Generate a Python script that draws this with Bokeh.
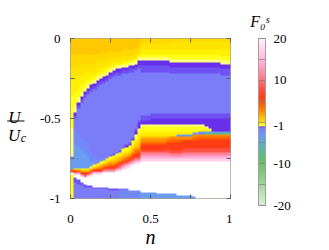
import numpy as np
from bokeh.plotting import figure
from bokeh.layouts import row
from bokeh.models import (LinearColorMapper, ColorBar, FixedTicker, Range1d, LinearAxis)
from bokeh.core.properties import value
from bokeh.embed import file_html
from bokeh.resources import INLINE

# ---------------- data ----------------
N_RANGE = [0.0, 1.0]          # filling n
U_RANGE = [-1.0, 0.0]         # U / Uc
X_TICKS = [0, 0.25, 0.5, 0.75, 1]
X_LABELS = ["0", "", "0.5", "", "1"]
Y_TICKS = [-1, -0.75, -0.5, -0.25, 0]
Y_LABELS = ["-1", "", "-0.5", "", "0"]
CB_TICKS = [-20, -10, -1, 10, 20]
CB_LABELS = ["-20", "-10", "-1", "10", "20"]
CB_MINOR = [-15, -5, 0, 5, 15]
F_LOW, F_HIGH = -20, 20

# F0s level represented by each symbol ('.' = no value, white)
LEVEL_KEYS = ["A", "B", "C", "D", "E", "F", "g", "h", "i", "j", "k", "l", "m", "q", "r",
              "v", "u", "b", "c", "d", "e", "t"]
LEVEL_VALUES = [0.8, 0.3, -0.1, -0.4, -0.7, -0.92, 1.6, 2.5, 4.0, 6.0, 8.0, 11.0, 14.0, 17.0, 19.5,
                -1.02, -1.15, -1.45, -2.2, -3.2, -4.5, -6.5]

# grid: 50 columns in n (step 0.02), each 100 cells in U
# from U=0 (top) to U=-1 (bottom), run-length coded as symbol+count
COLUMNS = [
    "A10 B8 C8 D10 E20 F18 d8 i1 j1 .1 E15",
    "A10 B8 C8 D8 E8 F4 v2 u2 b8 c8 d15 E1 i1 j1 m1 .2 u3 b10",
    "A10 B7 C7 D7 E6 F3 v2 u2 b16 c8 d13 E1 h1 j1 m1 .3 u3 b9",
    "A10 B7 C6 D6 E5 F2 v2 u2 b22 c8 d11 E1 A1 h1 j1 m1 .4 u2 b8",
    "A10 B6 C6 D5 E4 F2 v2 u2 b27 c8 d9 E1 A1 h1 j1 k1 m1 .4 u2 b7",
    "A10 B6 C5 D5 E3 F2 v2 u2 b32 c7 d7 E1 A1 h1 j1 m1 .6 u1 b7",
    "A10 B6 C5 D4 E2 F2 v2 u2 b38 c6 d3 E1 A1 h1 j1 l1 q1 .6 u1 b7",
    "A10 B6 C5 D3 E2 F2 v2 u2 b42 c4 d1 E1 A1 h1 j1 l1 q1 .8 u1 b6",
    "A10 B5 C4 D3 E2 F2 v2 u2 b46 c2 E1 B1 g1 i1 j1 l1 q1 .8 u1 b6",
    "A9 B5 C4 D3 E2 F2 v2 u2 b46 c2 E1 D1 A1 h1 i1 j1 l1 q1 .8 u1 b6",
    "A9 B5 C4 D2 E2 F2 v2 u2 b47 c1 E1 D1 A1 h1 i1 j1 l1 q1 .9 u1 b6",
    "A9 B5 C3 D2 E2 F2 v2 u2 b48 E1 D1 A1 g1 h1 j1 k1 l1 q1 .9 u1 b6",
    "A8 B5 C3 D2 E1 F2 v2 u2 b48 u1 E1 D1 A1 g1 h1 i1 j1 k1 l1 q1 .10 u1 b5",
    "A8 B4 C3 D2 E1 F2 v2 u2 b48 u1 E1 D1 B1 A1 g1 h1 i1 j1 k1 l1 q1 .10 u1 b5",
    "A8 B4 C3 D1 E1 F2 v2 u2 b48 u1 E1 D1 B1 A1 g1 h1 i1 j1 k1 l1 q1 .11 u1 b5",
    "A8 B4 C3 D1 E1 F2 v2 u2 b47 u1 E1 D1 B1 A1 g1 h1 i1 j1 k1 l1 m1 q1 .11 b2 c4",
    "A7 B4 C3 D1 E1 F2 v2 u2 b46 u1 E2 D1 B1 A1 g1 h1 i1 j1 k1 l1 m1 q1 .12 b1 c5",
    "A7 B4 C3 D1 E1 F2 v2 u2 b44 u1 v1 E2 D1 B1 A1 g1 h1 i1 j1 k1 l1 m1 q1 r1 .12 b1 c5",
    "A7 B4 C2 D1 E1 F2 v2 u2 b44 u1 v1 E2 D1 B1 A1 g1 h1 i1 j1 k1 l1 m1 q1 r1 .14 c5",
    "A7 B4 C2 D1 E1 F2 v2 u2 b41 u1 v1 E2 D2 B1 A1 g1 h1 i1 j2 k1 l1 m1 q1 r1 .15 c5",
    "A6 B4 C2 D1 E1 F2 v2 u2 b36 u2 v2 F1 E2 D2 B1 A2 g1 h1 i2 j2 k1 l1 m1 q1 r1 .16 c5",
    "A5 B3 C2 D1 E1 F2 v3 u2 b32 u2 v3 F1 E3 D3 B2 A2 g2 h1 i2 j2 k1 l1 m1 q1 .17 c5",
    "B3 C4 D3 E2 F2 v3 u4 b27 u3 v3 F1 E3 D2 C1 A1 g1 h2 i1 j4 k1 l2 m2 q2 .19 d4",
    "B3 C4 D3 E2 F2 v3 u4 b27 u3 v3 F1 E3 D2 C1 A1 g1 h2 i1 j4 k1 l2 m2 q2 .19 d4",
    "B3 C4 D3 E2 F2 v3 u4 b27 u3 v3 F1 E3 D2 C1 A1 g1 h2 i1 j4 k1 l2 m2 q2 .19 d4",
    "B3 C4 D3 E2 F2 v3 u4 b26 u3 v4 F1 E3 D2 C1 A1 g1 h2 i1 j4 k1 l2 m2 q2 .19 d4",
    "B3 C4 D3 E2 F2 v3 u4 b26 u3 v4 F1 E3 D2 C1 A1 g1 h2 i1 j4 k1 l2 m2 q2 .19 d4",
    "B3 C4 D3 E2 F2 v3 u4 b26 u3 v4 F1 E3 D2 C1 A1 g1 h2 i1 j4 k1 l2 m2 q2 .20 d3",
    "B3 C4 D3 E2 F2 v3 u4 b26 u3 v4 F1 E3 D2 C1 A1 g1 h2 i1 j4 k1 l2 m2 q2 .20 d3",
    "B3 C4 D3 E2 F2 v3 u4 b26 u3 v4 F1 E3 D2 C1 A1 g1 h2 i1 j4 k1 l2 m2 q2 .20 d3",
    "B3 C4 D3 E2 F2 v3 u4 b26 u3 v4 F1 E3 D2 C1 A1 h2 i1 j4 k2 l2 m2 q2 .20 d3",
    "B2 C5 D3 E3 F2 v3 u4 b25 u3 v4 F1 E3 D2 C1 h2 i2 j5 k2 l2 m1 q2 .20 d3",
    "B2 C5 D3 E3 F2 v3 u4 b25 u3 v4 F1 E3 D2 C1 h2 i2 j5 k2 l2 m1 q2 .20 d3",
    "B2 C5 D3 E3 F2 v3 u4 b25 u3 v4 F1 E3 D2 d1 h2 i2 j5 k2 l2 m1 q2 .21 d2",
    "B2 C5 D3 E3 F2 v3 u4 b25 u3 v4 F1 E3 D2 d1 h2 i2 j5 k2 l2 m1 q2 .21 d2",
    "B2 C5 D3 E3 F2 v3 u4 b25 u3 v4 F1 E3 D2 d1 h2 i1 j5 k2 l2 m2 q2 .21 d2",
    "B2 C5 D3 E3 F2 v3 u4 b25 u3 v4 F1 E3 D2 d1 h2 i1 j5 k2 l2 m2 q2 .21 d2",
    "B2 C5 D3 E3 F2 v3 u4 b25 u3 v4 F1 E3 D2 d1 h2 i1 j5 k2 l2 m2 q2 .21 d2",
    "B2 C5 D3 E3 F2 v3 u4 b25 u3 v4 F1 E3 D1 d1 h2 i2 j5 k2 l2 m2 q2 .22 d1",
    "B2 C5 D3 E3 F2 v3 u4 b25 u3 v4 F1 E3 D1 d1 h2 i2 j5 k2 l2 m2 q2 .23",
    "B2 C5 D3 E3 F2 v3 u4 b25 u3 v4 F1 E2 D1 d1 c1 h1 i2 j6 k2 l2 m2 q2 .23",
    "B2 C5 D3 E3 F2 v3 u4 b25 u3 v4 F1 E2 D1 d1 c1 h1 i2 j6 k2 l2 m2 q2 .23",
    "B2 C5 D3 E3 F2 v3 u4 b25 u3 v5 F1 E1 D1 d1 t1 h1 i2 j6 k2 l2 m2 q2 .23",
    "B2 C5 D3 E3 F2 v3 u4 b25 u3 v6 F1 E1 c1 t1 h1 i2 j6 k2 l2 m2 q2 .23",
    "B2 C5 D3 E3 F2 v3 u4 b25 u3 v8 c1 t1 h1 i2 j6 k2 l2 m2 q2 .23",
    "B2 C5 D3 E3 F2 v3 u4 b25 u3 v8 c1 t1 h1 i2 j6 k2 l2 m2 q2 .23",
    "B2 C5 D3 E3 F2 v3 u4 b25 u3 v8 c1 t1 h1 i2 j6 k2 l2 m2 q2 .23",
    "B2 C5 D4 E3 F2 v3 u4 b24 u3 v8 c1 t1 h1 i2 j6 k2 l2 m2 q2 .23",
    "B2 C5 D4 E3 F2 v3 u4 b24 u3 v8 c1 t1 h1 i2 j6 k2 l2 m2 q2 .23",
    "B2 C5 D4 E3 F2 v3 u4 b24 u3 v8 c1 t1 h1 i2 j6 k2 l2 m2 q2 .23",
]
N_ROWS = 100

# ---------------- colour scale (style) ----------------
STOPS = [(-20, "#dcf0d6"), (-16, "#b0dca8"), (-12, "#80c87c"), (-9, "#62bf64"),
         (-6.5, "#5cb8a8"), (-4.5, "#62a8dc"), (-3.2, "#6a9cf2"), (-2.2, "#728af8"),
         (-1.45, "#7a7cf8"), (-1.15, "#7052f4"), (-1.0, "#6626ea"),
         (-0.999, "#ffffa0"), (-0.92, "#ffff80"), (-0.7, "#ffff1a"), (-0.4, "#fff000"),
         (-0.1, "#ffe400"), (0.3, "#ffd800"), (0.8, "#ffc800"), (1.6, "#ffaa00"),
         (2.5, "#ff8c00"), (4, "#ff6400"), (6, "#ff3c14"), (8, "#ff5048"),
         (11, "#ff8296"), (14, "#ffaad8"), (17, "#ffd0ec"), (20, "#fff4fa")]


def hex2rgb(h):
    return np.array([int(h[i:i + 2], 16) for i in (1, 3, 5)], dtype=float)


def build_palette(n=1024):
    sv = np.array([s[0] for s in STOPS])
    sc = np.array([hex2rgb(s[1]) for s in STOPS])
    centers = F_LOW + (np.arange(n) + 0.5) * (F_HIGH - F_LOW) / n
    out = []
    for v in centers:
        rgb = [np.interp(v, sv, sc[:, k]) for k in range(3)]
        out.append("#%02x%02x%02x" % tuple(int(round(c)) for c in rgb))
    return out


LEVEL_MAP = dict(zip(LEVEL_KEYS, LEVEL_VALUES))


def decode(col):
    out = []
    for tok in col.split():
        sym, cnt = tok[0], int(tok[1:])
        out += [LEVEL_MAP.get(sym, np.nan)] * cnt
    out = (out + [out[-1]] * N_ROWS)[:N_ROWS]
    return out


Z = np.array([decode(c) for c in COLUMNS], dtype=float).T   # rows top->bottom
Z = Z[::-1].copy()                                           # bottom row first

mapper = LinearColorMapper(palette=build_palette(), low=F_LOW, high=F_HIGH,
                           nan_color="white")

# ---------------- layout constants ----------------
SERIF = "Liberation Serif"
TOTAL_H = 250
LABEL_W = 30                 # strip holding the y-axis label
FRAME_L, FRAME_T, FRAME_W, FRAME_H = 40, 38, 160, 160
FRAME_B = FRAME_T + FRAME_H
MAIN_R = 2
MAIN_W = FRAME_L + FRAME_W + MAIN_R
CBAR_W = 89                  # strip holding the colour bar
CBAR_FRAME_W = 54


def strip(width, frame_w):
    # companion strip; its frame shares the main frame's top/bottom, y in canvas pixels
    f = figure(width=width, height=TOTAL_H, x_range=Range1d(0, frame_w),
               y_range=Range1d(FRAME_B, FRAME_T), output_backend="svg",
               toolbar_location=None, min_border=0, min_border_left=0,
               min_border_right=width - frame_w, min_border_top=FRAME_T,
               min_border_bottom=TOTAL_H - FRAME_B)
    f.axis.visible = False
    f.grid.visible = False
    f.outline_line_color = None
    f.background_fill_color = "white"
    f.border_fill_color = "white"
    return f


# ---------------- main figure ----------------
p = figure(width=MAIN_W, height=TOTAL_H, x_range=Range1d(*N_RANGE), y_range=Range1d(*U_RANGE),
           output_backend="svg", toolbar_location=None,
           min_border_left=FRAME_L, min_border_right=MAIN_R,
           min_border_top=FRAME_T, min_border_bottom=TOTAL_H - FRAME_B)
p.grid.visible = False
p.outline_line_color = "#a8a090"
p.background_fill_color = "white"
p.border_fill_color = "white"

p.image(image=[Z], x=N_RANGE[0], y=U_RANGE[0], dw=N_RANGE[1] - N_RANGE[0],
        dh=U_RANGE[1] - U_RANGE[0], color_mapper=mapper)

p.add_layout(LinearAxis(), "above")
p.add_layout(LinearAxis(), "right")


def style_axis(ax, ticks, labels, show, standoff):
    ax.ticker = FixedTicker(ticks=ticks, minor_ticks=[])
    ax.major_label_overrides = {t: (l if show else "") for t, l in zip(ticks, labels)}
    ax.axis_line_color = None
    ax.major_tick_in = 4
    ax.major_tick_out = 0
    ax.minor_tick_in = 0
    ax.minor_tick_out = 0
    ax.major_tick_line_color = "#606060"
    ax.major_label_text_font = SERIF
    ax.major_label_text_font_size = "13px"
    ax.major_label_text_color = "black"
    ax.major_label_standoff = standoff


style_axis(p.below[0], X_TICKS, X_LABELS, True, 16)
style_axis(p.above[0], X_TICKS, X_LABELS, False, 0)
style_axis(p.left[0], Y_TICKS, Y_LABELS, True, 10)
style_axis(p.right[0], Y_TICKS, Y_LABELS, False, 0)

xb = p.below[0]
xb.axis_label = "n"
xb.axis_label_text_font = SERIF
xb.axis_label_text_font_style = "italic"
xb.axis_label_text_font_size = "20px"
xb.axis_label_text_color = "black"
xb.axis_label_standoff = 0

# ---------------- colour bar strip ----------------
cbf = strip(CBAR_W, CBAR_FRAME_W)
cb = ColorBar(color_mapper=mapper,
              ticker=FixedTicker(ticks=CB_TICKS, minor_ticks=CB_MINOR),
              major_label_overrides=dict(zip(CB_TICKS, CB_LABELS)),
              width=7, height=167, location=(26, -7), padding=0, margin=0,
              label_standoff=8, major_label_text_font=SERIF,
              major_label_text_font_size="13px", major_label_text_color="black",
              major_tick_in=7, major_tick_out=0, major_tick_line_color="#808080",
              major_tick_line_alpha=0.7,
              minor_tick_in=7, minor_tick_out=0, minor_tick_line_color="#808080",
              minor_tick_line_alpha=0.7,
              bar_line_color="#a0a0a0", border_line_color=None,
              background_fill_color=None)
cbf.add_layout(cb, "center")
# colour-bar title F_0^s as the label of a tick-less top axis
ttl = LinearAxis(ticker=FixedTicker(ticks=[], minor_ticks=[]), axis_line_color=None,
                 major_tick_line_color=None, minor_tick_line_color=None,
                 major_label_text_font_size="0px",
                 axis_label="F\u2080\u02e2", axis_label_text_font=SERIF,
                 axis_label_text_font_style="italic", axis_label_text_font_size="16px",
                 axis_label_text_color="black", axis_label_standoff=9)
cbf.add_layout(ttl, "above")

# ---------------- y-axis label strip (U / U_c) ----------------
lab = strip(LABEL_W, LABEL_W)
lab.text(x=[14.0, 13.7], y=[117.0, 135.0], text=["U", "U"], text_font=value(SERIF),
         text_font_style="italic", text_font_size="17px", text_align="center",
         text_baseline="alphabetic", text_color="black")
lab.text(x=[20.3], y=[137.2], text=["c"], text_font=value(SERIF),
         text_font_style="italic", text_font_size="12px", text_align="left",
         text_baseline="alphabetic", text_color="black")
lab.segment(x0=[6.7], y0=[120.5], x1=[24.0], y1=[120.5], line_color="black", line_width=1)

open("out.html", "w").write(file_html(row(lab, p, cbf), INLINE))
